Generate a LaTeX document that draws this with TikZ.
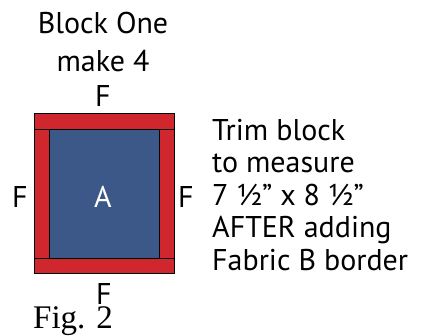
\documentclass[tikz,border=0pt]{standalone}
\usepackage{fontspec}
\setmainfont{PT Sans}
\newfontfamily\figfont{Liberation Serif}
\definecolor{fabF}{RGB}{208,39,47}
\definecolor{fabA}{RGB}{60,88,137}
\begin{document}
\begin{tikzpicture}[x=1pt,y=-1pt,
  lbl/.style={font=\fontsize{30}{36}\selectfont, inner sep=0pt, anchor=base},
  rlbl/.style={lbl, anchor=base west},
  strip/.style={draw=black, line width=0.8pt, fill=fabF},
  centre/.style={draw=black, line width=0.8pt, fill=fabA}]
\useasboundingbox (0,0) rectangle (427,335);
\node[strip, minimum width=140pt, minimum height=15.5pt, inner sep=0pt, anchor=north west] (top) at (34,113) {};
\node[strip, minimum width=140pt, minimum height=15.5pt, inner sep=0pt, anchor=north west] (bot) at (34,257.5) {};
\node[strip, minimum width=15.3pt, minimum height=129pt, inner sep=0pt, anchor=north west] (lft) at (34,128.5) {};
\node[strip, minimum width=15.3pt, minimum height=129pt, inner sep=0pt, anchor=north west] (rgt) at (158.7,128.5) {};
\node[centre, minimum width=109.4pt, minimum height=129pt, inner sep=0pt, anchor=north west] (ctr) at (49.3,128.5) {};
\node[lbl] (t1) at (103,33) {Block One};
\node[lbl] (t2) at (103,71) {make 4};
\node[lbl] (ftop) at (103,106) {F};
\node[lbl] (fleft) at (20,207) {F};
\node[lbl] (fright) at (186,207) {F};
\node[lbl, text=white] (a) at (103,207) {A};
\node[lbl] (fbot) at (104,304) {F};
\node[inner sep=0pt, anchor=base west, font=\figfont\fontsize{33}{38}\selectfont] (fig) at (33,328) {Fig. 2};
\node[rlbl] (r1) at (212,140) {Trim block};
\node[rlbl] (r2) at (212,172.5) {to measure};
\node[rlbl] (r3) at (212,205) {7 ½” x 8 ½”};
\node[rlbl] (r4) at (212,237.5) {AFTER adding};
\node[rlbl] (r5) at (212,270) {Fabric B border};
\end{tikzpicture}
\end{document}
